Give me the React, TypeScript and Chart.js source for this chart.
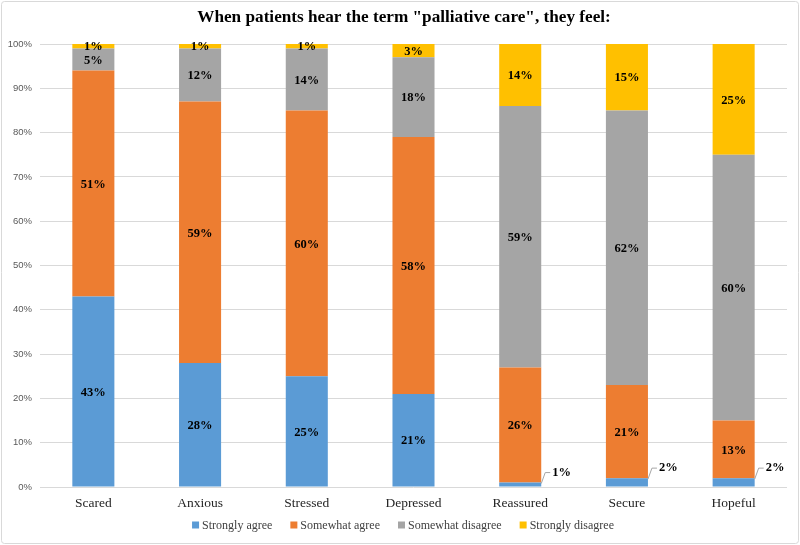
import React, { useEffect, useRef } from "react";
import { Chart, registerables } from "chart.js";

Chart.register(...registerables);

const titleText = 'When patients hear the term "palliative care", they feel:';
const categories = ["Scared", "Anxious", "Stressed", "Depressed", "Reassured", "Secure", "Hopeful"];
const stronglyAgree = [43, 28, 25, 21, 1, 2, 2];
const somewhatAgree = [51, 59, 60, 58, 26, 21, 13];
const somewhatDisagree = [5, 12, 14, 18, 59, 62, 60];
const stronglyDisagree = [1, 1, 1, 3, 14, 15, 25];
const seriesNames = ["Strongly agree", "Somewhat agree", "Somewhat disagree", "Strongly disagree"];
const seriesColors = ["#5B9BD5", "#ED7D31", "#A5A5A5", "#FFC000"];

const SERIF = "'Liberation Serif', 'Times New Roman', serif";

const framePlugin = {
  id: "frame",
  beforeDraw(chart: any) {
    const ctx = chart.ctx;
    ctx.save();
    ctx.fillStyle = "#ffffff";
    ctx.fillRect(0, 0, chart.width, chart.height);
    ctx.strokeStyle = "#d9d9d9";
    ctx.lineWidth = 1;
    ctx.beginPath();
    (ctx as any).roundRect(1.5, 1.5, chart.width - 3, chart.height - 3, 3);
    ctx.stroke();
    // title
    ctx.fillStyle = "#000000";
    ctx.font = `bold 17.2px ${SERIF}`;
    ctx.textAlign = "center";
    ctx.textBaseline = "middle";
    ctx.fillText(titleText, 404, 18);
    ctx.restore();
  },
};

const labelPlugin = {
  id: "segLabels",
  afterDatasetsDraw(chart: any) {
    const ctx = chart.ctx;
    ctx.save();
    ctx.font = `bold 12.5px ${SERIF}`;
    ctx.fillStyle = "#000000";
    ctx.textBaseline = "middle";
    chart.data.datasets.forEach((ds: any, di: number) => {
      const meta = chart.getDatasetMeta(di);
      meta.data.forEach((el: any, i: number) => {
        const v = ds.data[i];
        const p = el.getProps(["x", "y", "base", "width"], true);
        const txt = `${v}%`;
        if (di === 0 && v <= 2) {
          const rx = p.x + p.width / 2;
          const top = Math.min(p.y, p.base);
          ctx.strokeStyle = "#a6a6a6";
          ctx.lineWidth = 1;
          ctx.beginPath();
          ctx.moveTo(rx, top + 1);
          ctx.lineTo(rx + 4, top - 10);
          ctx.lineTo(rx + 9, top - 10);
          ctx.stroke();
          ctx.textAlign = "left";
          ctx.fillText(txt, rx + 11, top - 10);
        } else {
          ctx.textAlign = "center";
          ctx.fillText(txt, p.x, (p.y + p.base) / 2 + 1);
        }
      });
    });
    ctx.restore();
  },
};

const legendPlugin = {
  id: "customLegend",
  afterDraw(chart: any) {
    const ctx = chart.ctx;
    ctx.save();
    ctx.font = `12px ${SERIF}`;
    ctx.textBaseline = "middle";
    ctx.textAlign = "left";
    const box = 7;
    const gap = 3;
    const spacing = 18;
    const names = chart.data.datasets.map((d: any) => d.label);
    const widths = names.map((n: string) => box + gap + ctx.measureText(n).width);
    const total = widths.reduce((a: number, b: number) => a + b, 0) + spacing * (names.length - 1);
    let x = 403 - total / 2;
    const y = 525;
    names.forEach((n: string, i: number) => {
      ctx.fillStyle = chart.data.datasets[i].backgroundColor;
      ctx.fillRect(x, y - box / 2, box, box);
      ctx.fillStyle = "#404040";
      ctx.fillText(n, x + box + gap, y + 0.5);
      x += widths[i] + spacing;
    });
    ctx.restore();
  },
};

export default function App() {
  const ref = useRef<HTMLCanvasElement>(null);
  useEffect(() => {
    const seriesData = [stronglyAgree, somewhatAgree, somewhatDisagree, stronglyDisagree];
    const chart = new Chart(ref.current as HTMLCanvasElement, {
      type: "bar",
      data: {
        labels: categories,
        datasets: seriesNames.map((name, i) => ({
          label: name,
          data: seriesData[i],
          backgroundColor: seriesColors[i],
          borderWidth: 0,
          categoryPercentage: 1,
          barPercentage: 0.394,
        })),
      },
      options: {
        responsive: false,
        animation: false,
        layout: { padding: { top: 44, left: 0, right: 13, bottom: 0 } },
        plugins: {
          legend: { display: false },
          title: { display: false },
          tooltip: { enabled: false },
        },
        scales: {
          x: {
            stacked: true,
            grid: { display: false, drawTicks: false },
            border: { display: false },
            ticks: {
              color: "#262626",
              font: { family: SERIF, size: 13.5 },
              padding: 8,
            },
            afterFit: (s: any) => {
              s.height = 58;
            },
          },
          y: {
            stacked: true,
            min: 0,
            max: 100,
            border: { display: false },
            grid: { color: "#d9d9d9", lineWidth: 1, drawTicks: false },
            ticks: {
              stepSize: 10,
              color: "#595959",
              padding: 8,
              font: { family: "'Liberation Sans', Arial, sans-serif", size: 9.5 },
              callback: (v: any) => `${v}%`,
            },
            afterFit: (s: any) => {
              s.width = 40;
            },
          },
        },
      },
      plugins: [framePlugin, labelPlugin, legendPlugin],
    });
    return () => chart.destroy();
  }, []);
  return (
    <div style={{ position: "absolute", left: 0, top: 0, width: 800, height: 545 }}>
      <canvas ref={ref} width={800} height={545} style={{ display: "block" }} />
    </div>
  );
}
